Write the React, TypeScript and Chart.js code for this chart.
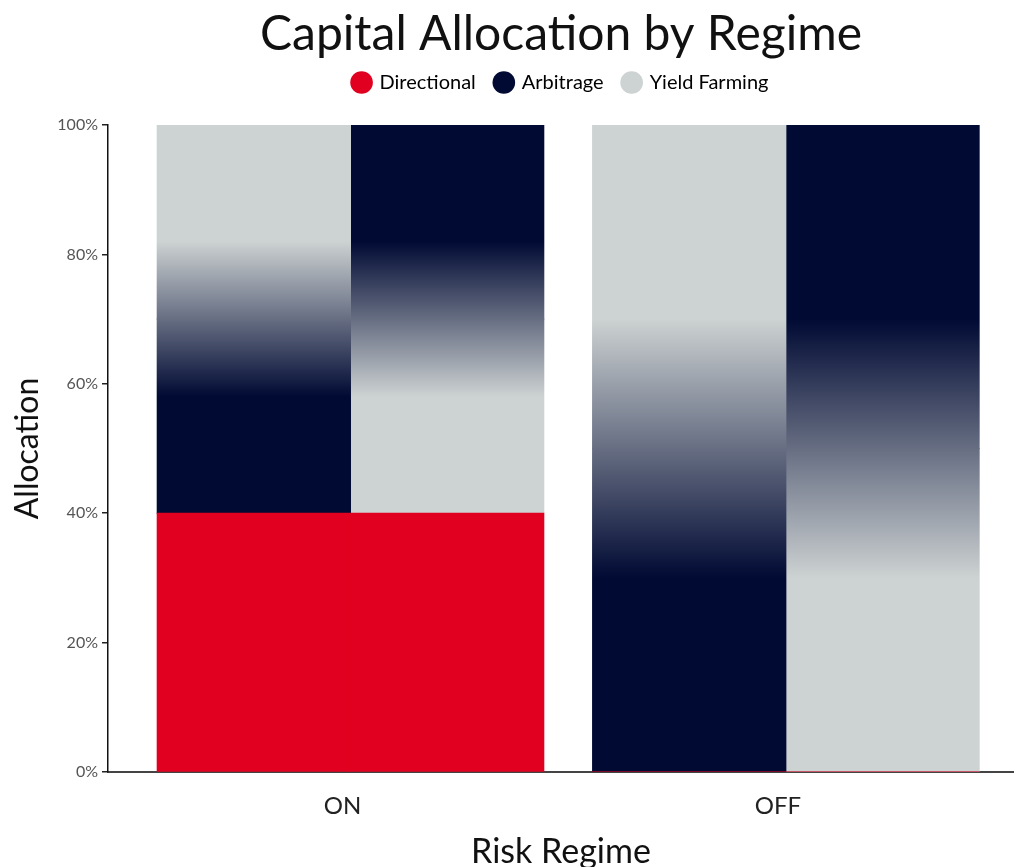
import React, { useEffect, useRef } from 'react';
import { Chart, registerables } from 'chart.js';

Chart.register(...registerables);

// ---- data -------------------------------------------------------------
const CATEGORIES = ['ON', 'OFF'];
const DIRECTIONAL = [40, 0];
const ARBITRAGE = [30, 50];
const YIELD_FARMING = [30, 50];
const Y_TICKS = [0, 20, 40, 60, 80, 100];

// ---- styling ----------------------------------------------------------
const RED = '#E1001F';
const NAVY = '#000A33';
const GREY = '#CDD2D2';
const FONT = 'Lato, "Noto Sans", sans-serif';

const WIDTH = 1014;
const HEIGHT = 867;

// share of each segment that fades into its neighbour
const BLEND = 0.4;
// x range (category index units) so the columns sit where wanted
const X_MIN = -0.557;
const X_MAX = 1.524;
const LEGEND_GAP = 22.5;

type SeriesKey = 'directional' | 'arbitrage' | 'yield';

const SERIES: Record<SeriesKey, { label: string; values: number[]; color: string }> = {
  directional: { label: 'Directional', values: DIRECTIONAL, color: RED },
  arbitrage: { label: 'Arbitrage', values: ARBITRAGE, color: NAVY },
  yield: { label: 'Yield Farming', values: YIELD_FARMING, color: GREY },
};
const LEGEND_ORDER: SeriesKey[] = ['directional', 'arbitrage', 'yield'];

// every regime is drawn as two side-by-side stacks; directional sits at the
// bottom of both, the remaining pair is swapped between left and right
const COLUMNS: { stack: string; pair: [SeriesKey, SeriesKey] }[] = [
  { stack: 'left', pair: ['arbitrage', 'yield'] },
  { stack: 'right', pair: ['yield', 'arbitrage'] },
];

const points = (values: number[]) => values.map((y, i) => ({ x: i, y }));

// vertical gradient shared by the two upper segments of one stack
function pairFill(pair: [SeriesKey, SeriesKey], fallback: string) {
  return (c: any) => {
    const chart = c.chart;
    const i = c.dataIndex;
    if (!chart.chartArea || i === undefined) return fallback;
    const lower = SERIES[pair[0]];
    const upper = SERIES[pair[1]];
    const edge = DIRECTIONAL[i] + lower.values[i];
    const y = chart.scales.y;
    const y0 = y.getPixelForValue(edge - BLEND * lower.values[i]);
    const y1 = y.getPixelForValue(edge + BLEND * upper.values[i]);
    if (Math.abs(y1 - y0) < 0.5) return fallback;
    const g = chart.ctx.createLinearGradient(0, y0, 0, y1);
    g.addColorStop(0, lower.color);
    g.addColorStop(1, upper.color);
    return g;
  };
}

const datasets: any[] = [];
COLUMNS.forEach((col) => {
  datasets.push({
    label: SERIES.directional.label,
    data: points(SERIES.directional.values),
    backgroundColor: RED,
    stack: col.stack,
  });
  col.pair.forEach((key) => {
    datasets.push({
      label: SERIES[key].label,
      data: points(SERIES[key].values),
      backgroundColor: pairFill(col.pair, SERIES[key].color),
      stack: col.stack,
    });
  });
});

// extra room between the legend row and the plot
const legendGap = {
  id: 'legendGap',
  beforeInit(chart: any) {
    const legend = chart.legend;
    if (!legend) return;
    const fit = legend.fit;
    legend.fit = function () {
      fit.call(this);
      this.height += LEGEND_GAP;
    };
  },
};

export default function App() {
  const ref = useRef<HTMLCanvasElement>(null);

  useEffect(() => {
    const canvas = ref.current;
    if (!canvas) return;
    const chart = new Chart(canvas, {
      type: 'bar',
      data: { datasets },
      plugins: [legendGap],
      options: {
        responsive: false,
        animation: false,
        devicePixelRatio: 1,
        layout: { padding: 0 },
        datasets: {
          bar: { categoryPercentage: 0.888, barPercentage: 1, borderWidth: 0, inflateAmount: 0.5 },
        },
        plugins: {
          tooltip: { enabled: false },
          title: {
            display: true,
            text: 'Capital Allocation by Regime',
            fullSize: false,
            color: '#111',
            font: { family: FONT, size: 48, weight: 'normal', lineHeight: 0.6 },
            padding: { top: 20.6, bottom: 3.1 },
          },
          legend: {
            position: 'top',
            fullSize: false,
            labels: {
              usePointStyle: true,
              pointStyle: 'circle',
              boxWidth: 16,
              boxHeight: 16,
              padding: 20,
              color: '#333',
              font: { family: FONT, size: 20 },
              generateLabels: () =>
                LEGEND_ORDER.map((key, k) => ({
                  text: SERIES[key].label,
                  fillStyle: SERIES[key].color,
                  strokeStyle: SERIES[key].color,
                  lineWidth: 0,
                  pointStyle: 'circle',
                  hidden: false,
                  datasetIndex: k,
                })),
            },
          },
        },
        scales: {
          x: {
            type: 'linear',
            min: X_MIN,
            max: X_MAX,
            offset: false,
            stacked: true,
            z: 1,
            afterBuildTicks: (scale: any) => {
              scale.ticks = CATEGORIES.map((_, i) => ({ value: i }));
            },
            afterFit: (scale: any) => {
              scale.height = 95;
            },
            grid: { display: false, drawTicks: false, offset: false },
            border: { display: true, color: '#444', width: 2 },
            ticks: {
              autoSkip: false,
              maxRotation: 0,
              padding: 20,
              labelOffset: -8,
              color: '#222',
              font: { family: FONT, size: 24 },
              callback: (v: any) => CATEGORIES[Math.round(Number(v))] ?? '',
            },
            title: {
              display: true,
              text: 'Risk Regime',
              color: '#111',
              font: { family: FONT, size: 34, lineHeight: 0.9 },
              padding: { top: 0, bottom: 0 },
            },
          },
          y: {
            type: 'linear',
            min: 0,
            max: 100,
            stacked: true,
            z: 1,
            afterBuildTicks: (scale: any) => {
              scale.ticks = Y_TICKS.map((value) => ({ value }));
            },
            afterFit: (scale: any) => {
              scale.width = 108;
            },
            grid: {
              display: true,
              drawOnChartArea: false,
              drawTicks: true,
              tickLength: 6,
              color: '#222',
              lineWidth: 1.5,
            },
            border: { display: true, color: '#111', width: 1.5 },
            ticks: {
              padding: 4,
              color: '#555',
              font: { family: FONT, size: 16 },
              callback: (v: any) => `${v}%`,
            },
            title: {
              display: true,
              text: 'Allocation',
              color: '#111',
              font: { family: FONT, size: 32, lineHeight: 1.2 },
              padding: { top: 8.2, bottom: 0 },
            },
          },
        },
      } as any,
    });
    return () => chart.destroy();
  }, []);

  return (
    <div style={{ position: 'absolute', left: 0, top: 0, width: WIDTH, height: HEIGHT, background: '#fff' }}>
      <canvas ref={ref} width={WIDTH} height={HEIGHT} style={{ display: 'block', width: WIDTH, height: HEIGHT }} />
    </div>
  );
}
